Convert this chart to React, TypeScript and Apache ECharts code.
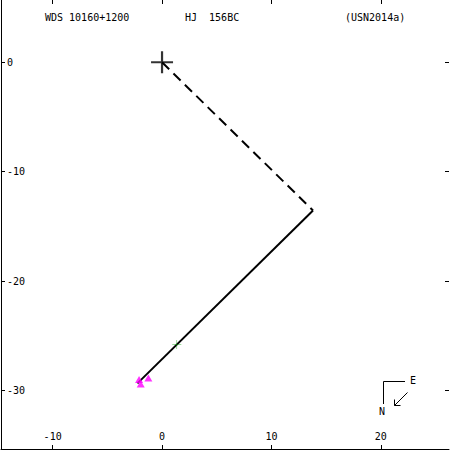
import React, { useEffect, useRef } from "react";
import * as echarts from "echarts";

const xTicks = [-10, 0, 10, 20];
const yTicks = [0, -10, -20, -30];
const primary: [number, number][] = [[0, 0]];
const dashedSeg: [number, number][] = [[0, 0], [13.8, -13.55]];
const orbitSeg: [number, number][] = [[13.8, -13.55], [-2.25, -29.35]];
const greenPts: [number, number][] = [[1.35, -25.8]];
const magentaPts: [number, number][] = [[-2.1, -29.0], [-1.95, -29.4], [-1.25, -28.85]];
const titleLeft = "WDS 10160+1200";
const titleMid = "HJ  156BC";
const titleRight = "(USN2014a)";

const FONT = "'DejaVu Sans Mono', 'Liberation Mono', monospace";

export default function App() {
  const ref = useRef<HTMLDivElement>(null);
  useEffect(() => {
    if (!ref.current) return;
    const chart = echarts.init(ref.current, null, { renderer: "svg" });
    const tickStyle = { color: "#000", width: 1 };
    chart.setOption({
      animation: false,
      backgroundColor: "#fff",
      grid: { left: 1, top: 0, width: 448, height: 449 },
      xAxis: [
        {
          type: "value", min: -14.72, max: 26.23, position: "bottom",
          splitLine: { show: false },
          axisLine: { show: true, onZero: false, lineStyle: { color: "#000", width: 1 } },
          axisTick: { show: true, inside: true, length: 4, lineStyle: tickStyle, customValues: xTicks },
          axisLabel: { show: true, inside: true, margin: 8, color: "#000", fontSize: 10, fontFamily: FONT, customValues: xTicks },
        },
        {
          type: "value", min: -14.72, max: 26.23, position: "top",
          splitLine: { show: false },
          axisLine: { show: false, onZero: false },
          axisTick: { show: true, inside: true, length: 4, lineStyle: tickStyle, customValues: xTicks },
          axisLabel: { show: false },
        },
      ],
      yAxis: [
        {
          type: "value", min: -35.35, max: 5.69, position: "left",
          splitLine: { show: false },
          axisLine: { show: true, onZero: false, lineStyle: { color: "#000", width: 1 } },
          axisTick: { show: true, inside: true, length: 4, lineStyle: tickStyle, customValues: yTicks },
          axisLabel: { show: true, inside: true, margin: 6, color: "#000", fontSize: 10, fontFamily: FONT, customValues: yTicks },
        },
        {
          type: "value", min: -35.35, max: 5.69, position: "right",
          splitLine: { show: false },
          axisLine: { show: false, onZero: false },
          axisTick: { show: true, inside: true, length: 4, lineStyle: tickStyle, customValues: yTicks },
          axisLabel: { show: false },
        },
      ],
      series: [
        {
          type: "line", data: dashedSeg, symbol: "none",
          lineStyle: { color: "#000", width: 2, type: [10, 6] },
        },
        {
          type: "line", data: orbitSeg, symbol: "none",
          lineStyle: { color: "#000", width: 2 },
        },
        {
          type: "scatter", data: greenPts, symbol: "path://M0,9.5H20V10.5H0Z M9.5,0H10.5V20H9.5Z", symbolSize: 9,
          itemStyle: { color: "#00a000" }, z: 5,
        },
        {
          type: "scatter", data: magentaPts, symbol: "triangle", symbolSize: [8, 7],
          itemStyle: { color: "#ff00ff" }, z: 4,
        },
        {
          type: "scatter", data: primary, symbol: "path://M0,9H20V11H0Z M9,0H11V20H9Z", symbolSize: 22,
          itemStyle: { color: "#000" }, z: 6,
        },
      ],
      graphic: [
        { type: "text", left: 45, top: 12, style: { text: titleLeft, font: `10px ${FONT}`, fill: "#000" } },
        { type: "text", left: 185, top: 12, style: { text: titleMid, font: `10px ${FONT}`, fill: "#000" } },
        { type: "text", left: 345, top: 12, style: { text: titleRight, font: `10px ${FONT}`, fill: "#000" } },
        { type: "polyline", shape: { points: [[405, 381.5], [383.5, 381.5], [383.5, 404]] }, style: { stroke: "#000", lineWidth: 1, fill: null } },
        { type: "text", x: 413, y: 380, style: { text: "E", font: `10px ${FONT}`, fill: "#000", align: "center", verticalAlign: "middle" } },
        { type: "text", x: 382, y: 411, style: { text: "N", font: `10px ${FONT}`, fill: "#000", align: "center", verticalAlign: "middle" } },
        { type: "line", shape: { x1: 407.5, y1: 392.5, x2: 394.5, y2: 405.5 }, style: { stroke: "#000", lineWidth: 1 } },
        { type: "polyline", shape: { points: [[394.5, 399.5], [394.5, 405.5], [400.5, 405.5]] }, style: { stroke: "#000", lineWidth: 1, fill: null } },
      ],
    });
    return () => chart.dispose();
  }, []);
  return <div ref={ref} style={{ position: "fixed", left: 0, top: 0, width: 450, height: 450 }} />;
}
